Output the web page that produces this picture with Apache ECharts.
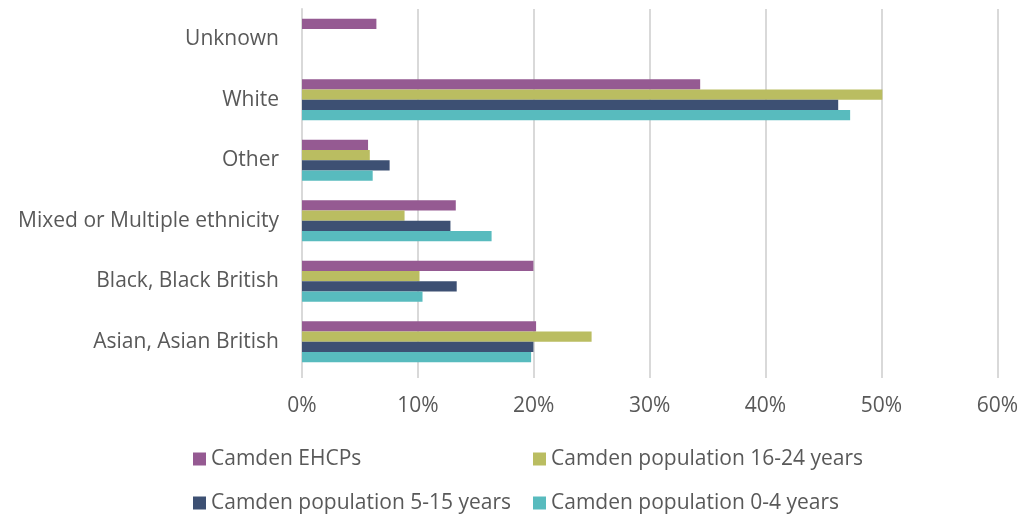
<!DOCTYPE html>
<html><head><meta charset="utf-8">
<script src="https://cdn.jsdelivr.net/npm/echarts@6/dist/echarts.min.js"></script>
<style>html,body{margin:0;padding:0;background:#fff}#c{width:1021px;height:515px}</style>
</head><body><div id="c"></div>
<script>
const categories = ['Asian, Asian British', 'Black, Black British', 'Mixed or Multiple ethnicity', 'Other', 'White', 'Unknown'];
const seriesNames = ['Camden EHCPs', 'Camden population 16-24 years', 'Camden population 5-15 years', 'Camden population 0-4 years'];
const ehcps = [20.2, 19.97, 13.27, 5.7, 34.36, 6.42];
const pop16to24 = [24.99, 10.14, 8.85, 5.85, 50.08, null];
const pop5to15 = [19.97, 13.35, 12.81, 7.56, 46.27, null];
const pop0to4 = [19.77, 10.4, 16.36, 6.1, 47.3, null];
const xTicks = [0, 10, 20, 30, 40, 50, 60];
const colors = ['#955A92', '#BABD61', '#3D5073', '#58BBBE'];

const FONT = 'Open Sans';
const TXT = '#595959';
const FS = 21;
const chart = echarts.init(document.getElementById('c'), null, {renderer: 'canvas'});
const values = [ehcps, pop16to24, pop5to15, pop0to4];
const legendBase = {
  orient: 'vertical', top: 447, padding: 0, height: 68,
  itemWidth: 13, itemHeight: 13, itemGap: 20, icon: 'rect',
  textStyle: {fontFamily: FONT, fontSize: FS, color: TXT, lineHeight: 24}
};
chart.setOption({
  animation: false,
  color: colors,
  textStyle: {fontFamily: FONT, color: TXT},
  grid: {left: 302, right: 21, top: 9, bottom: 143, containLabel: false},
  legend: [
    Object.assign({}, legendBase, {data: [seriesNames[0], seriesNames[2]], left: 193}),
    Object.assign({}, legendBase, {data: [seriesNames[1], seriesNames[3]], left: 533})
  ],
  xAxis: {
    type: 'value', min: xTicks[0], max: xTicks[xTicks.length - 1], interval: 10,
    axisLine: {show: false},
    axisTick: {show: true, length: 6, lineStyle: {color: '#D9D9D9', width: 2}},
    splitLine: {show: true, lineStyle: {color: '#D9D9D9', width: 2}},
    axisLabel: {fontFamily: FONT, fontSize: FS, color: TXT, margin: 24, formatter: v => v + '%'}
  },
  yAxis: {
    type: 'category', data: categories,
    axisLine: {show: true, lineStyle: {color: '#D9D9D9', width: 2}},
    axisTick: {show: false},
    axisLabel: {fontFamily: FONT, fontSize: FS, color: TXT, margin: 23, padding: [2, 0, 0, 0]}
  },
  series: seriesNames.map((n, i) => ({
    name: n, type: 'bar', data: values[i],
    barGap: '0%', barCategoryGap: '32%'
  }))
});
</script></body></html>
